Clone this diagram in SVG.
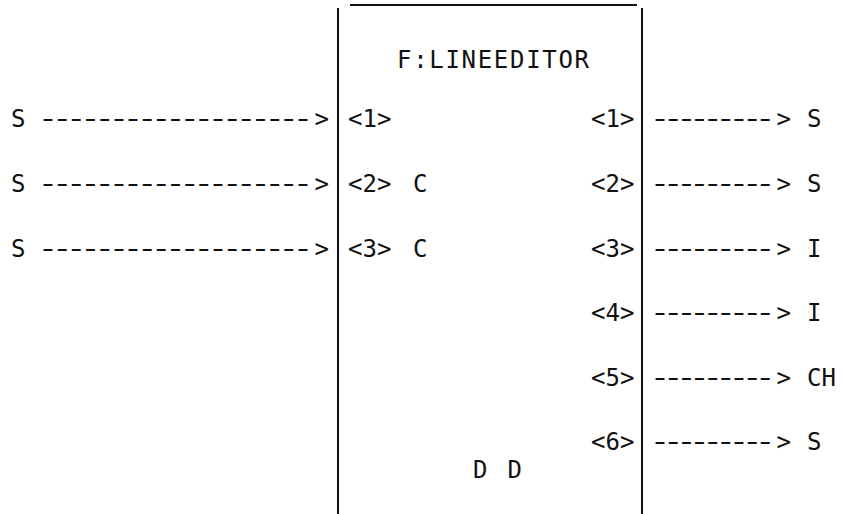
<svg xmlns="http://www.w3.org/2000/svg" width="843" height="514" viewBox="0 0 843 514">
<style>
  text { font-family: "DejaVu Sans Mono", "Liberation Mono", monospace; font-size: 24px; fill: #111; }
  .ln { stroke: #111; stroke-width: 2; fill: none; }
</style>
<rect width="843" height="514" fill="#fff"/>
<g id="lineeditor">
  <line class="ln" x1="338" y1="8" x2="338" y2="514"/>
  <line class="ln" x1="642" y1="8" x2="642" y2="514"/>
  <line class="ln" x1="350" y1="5" x2="637" y2="5"/>
  <text x="397" y="68" textLength="192" lengthAdjust="spacing">F:LINEEDITOR</text>
  <text x="348" y="127">&lt;1&gt;</text>
  <text x="348" y="192">&lt;2&gt;</text>
  <text x="413" y="192">C</text>
  <text x="348" y="257">&lt;3&gt;</text>
  <text x="413" y="257">C</text>
  <text x="591" y="127">&lt;1&gt;</text>
  <text x="591" y="192">&lt;2&gt;</text>
  <text x="591" y="257">&lt;3&gt;</text>
  <text x="591" y="321">&lt;4&gt;</text>
  <text x="591" y="386">&lt;5&gt;</text>
  <text x="591" y="450">&lt;6&gt;</text>
  <text x="473" y="478" textLength="49" lengthAdjust="spacing">D D</text>
</g>
<g id="in1"><text x="11" y="127">S</text></g>
<g id="in2"><text x="11" y="192">S</text></g>
<g id="in3"><text x="11" y="257">S</text></g>
<g id="out1"><text x="807" y="127">S</text></g>
<g id="out2"><text x="807" y="192">S</text></g>
<g id="out3"><text x="807" y="257">I</text></g>
<g id="out4"><text x="807" y="321">I</text></g>
<g id="out5"><text x="807" y="386">CH</text></g>
<g id="out6"><text x="807" y="450">S</text></g>
<g id="connectors">
  <g transform="scale(1.45 1)">
    <text x="25.9" y="127" textLength="190.3" lengthAdjust="spacing">-------------------</text>
    <text x="25.9" y="192" textLength="190.3" lengthAdjust="spacing">-------------------</text>
    <text x="25.9" y="257" textLength="190.3" lengthAdjust="spacing">-------------------</text>
    <text x="448" y="127" textLength="87" lengthAdjust="spacing">---------</text>
    <text x="448" y="192" textLength="87" lengthAdjust="spacing">---------</text>
    <text x="448" y="257" textLength="87" lengthAdjust="spacing">---------</text>
    <text x="448" y="321" textLength="87" lengthAdjust="spacing">---------</text>
    <text x="448" y="386" textLength="87" lengthAdjust="spacing">---------</text>
    <text x="448" y="450" textLength="87" lengthAdjust="spacing">---------</text>
  </g>
  <text x="314.5" y="127">&gt;</text>
  <text x="314.5" y="192">&gt;</text>
  <text x="314.5" y="257">&gt;</text>
  <text x="776.5" y="127">&gt;</text>
  <text x="776.5" y="192">&gt;</text>
  <text x="776.5" y="257">&gt;</text>
  <text x="776.5" y="321">&gt;</text>
  <text x="776.5" y="386">&gt;</text>
  <text x="776.5" y="450">&gt;</text>
</g>
</svg>
